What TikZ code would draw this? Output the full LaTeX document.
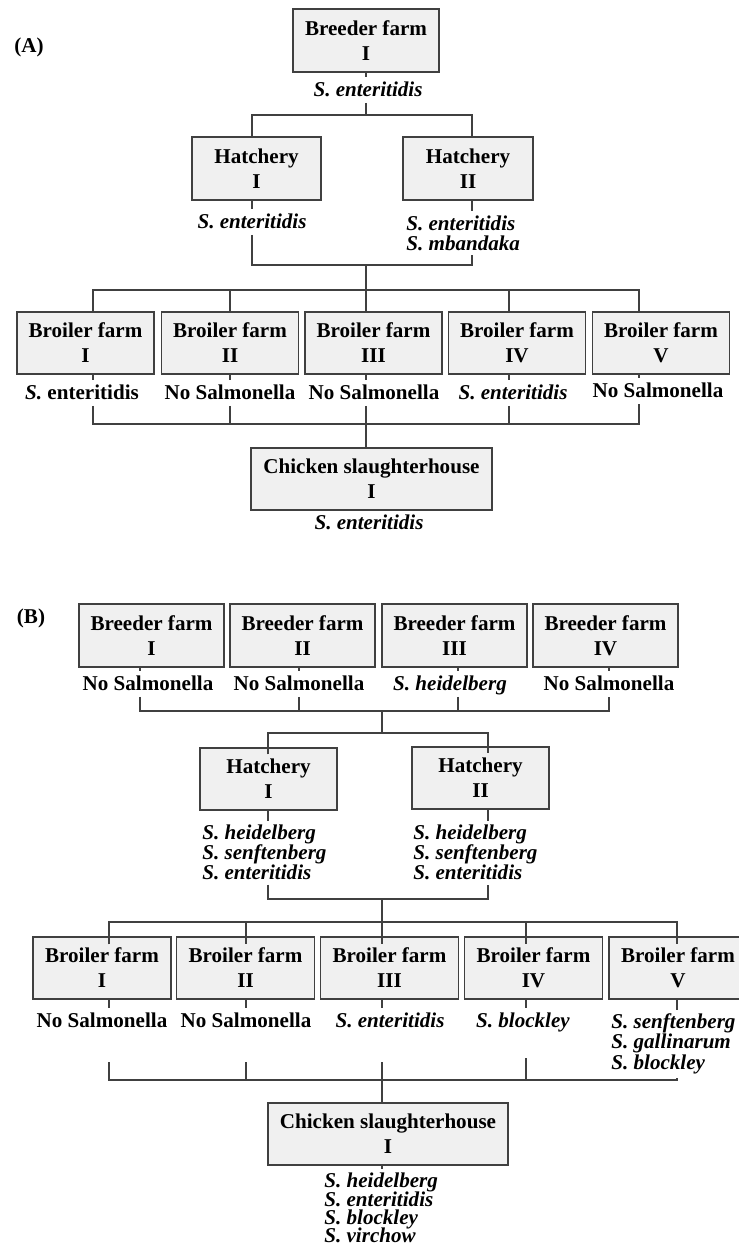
\documentclass[tikz,border=0pt]{standalone}
\usepackage{fontspec}
\setmainfont{Liberation Serif}
\usetikzlibrary{calc}
\newcommand\tightlines{\lineskiplimit=-20pt\relax}

\begin{document}
\begin{tikzpicture}[x=0.02cm,y=-0.02cm]

\tikzset{
    box/.style={draw=black!75, line width=0.7pt, fill=black!6, align=center,
        font=\fontsize{12}{14.2}\selectfont\bfseries, inner sep=0pt,
        minimum width=2.74cm, minimum height=1.24cm},
    lbl/.style={font=\fontsize{12}{11.5}\selectfont\bfseries, inner sep=0.08cm,
        text height=8.4pt, text depth=1.2pt},
    lbls/.style={font=\fontsize{12}{11.5}\selectfont\bfseries\itshape\tightlines,
        inner sep=0.08cm, align=left, anchor=north west},
    tag/.style={font=\fontsize{12}{14}\selectfont\bfseries},
    conn/.style={draw=black!75, line width=0.7pt}}

\useasboundingbox (0,0) rectangle (739,1246);
\clip (0,0) rectangle (739,1246);

% (A)
\node[tag] (tagA) at (29,47) {(A)};

\node[box, minimum width=2.92cm, minimum height=1.26cm] (abr) at (366,40.5) {Breeder farm\\I};
\node[lbl] (abrl) at (368,90) {\textit{S. enteritidis}};
\coordinate (ja0) at (366,115);
\coordinate (ja1) at (252,115);
\coordinate (ja2) at (472,115);

\node[box, minimum width=2.58cm, minimum height=1.26cm] (ah1) at (256.5,168.5) {Hatchery\\I};
\node[box, minimum width=2.6cm, minimum height=1.26cm] (ah2) at (468,168.5) {Hatchery\\II};
\node[lbl] (ah1l) at (252,222) {\textit{S. enteritidis}};
\node[lbls] (ah2l) at (402,211.5) {S. enteritidis\\S. mbandaka};
\coordinate (jb0) at (366,265);
\coordinate (jb1) at (252,265);
\coordinate (jb2) at (472,265);

\coordinate (jc0) at (366,290);
\coordinate (jc1) at (93,290);
\coordinate (jc2) at (230,290);
\coordinate (jc4) at (509,290);
\coordinate (jc5) at (639,290);

\node[box] (ab1) at (85.5,343) {Broiler farm\\I};
\node[box] (ab2) at (230,343) {Broiler farm\\II};
\node[box] (ab3) at (373.5,343) {Broiler farm\\III};
\node[box] (ab4) at (517,343) {Broiler farm\\IV};
\node[box] (ab5) at (661,343) {Broiler farm\\V};
\node[lbl] (ab1l) at (82,393) {\textit{S.} enteritidis};
\node[lbl] (ab2l) at (230,393) {No Salmonella};
\node[lbl] (ab3l) at (374,393) {No Salmonella};
\node[lbl] (ab4l) at (513,393) {\textit{S. enteritidis}};
\node[lbl] (ab5l) at (658,391) {No Salmonella};

\coordinate (jd0) at (366,424);
\coordinate (jd1) at (93,424);
\coordinate (jd2) at (230,424);
\coordinate (jd4) at (509,424);
\coordinate (jd5) at (639,424);

\node[box, minimum width=4.82cm] (asl) at (371.5,479) {Chicken slaughterhouse\\I};
\node[lbl] (asll) at (369,523) {\textit{S. enteritidis}};

\draw[conn] (abr.south -| ja0) -- (abrl.north -| ja0);
\draw[conn] (abrl.south -| ja0) -- (ja0);
\draw[conn] (ah1.north -| ja1) -- (ja1) -- (ja2) -- (ah2.north -| ja2);
\draw[conn] (ah1.south -| jb1) -- (ah1l.north -| jb1);
\draw[conn] (ah2.south -| jb2) -- (ah2l.north -| jb2);
\draw[conn] (ah1l.south -| jb1) -- (jb1) -- (jb2) -- (ah2l.south -| jb2);
\draw[conn] (jb0) -- (jc0);
\draw[conn] (ab1.north -| jc1) -- (jc1) -- (jc5) -- (ab5.north -| jc5);
\draw[conn] (jc2) -- (ab2.north -| jc2);
\draw[conn] (jc0) -- (ab3.north -| jc0);
\draw[conn] (jc4) -- (ab4.north -| jc4);
\draw[conn] (ab1.south -| jc1) -- (ab1l.north -| jc1);
\draw[conn] (ab2.south -| jc2) -- (ab2l.north -| jc2);
\draw[conn] (ab3.south -| jc0) -- (ab3l.north -| jc0);
\draw[conn] (ab4.south -| jc4) -- (ab4l.north -| jc4);
\draw[conn] (ab5.south -| jc5) -- (ab5l.north -| jc5);
\draw[conn] (ab1l.south -| jd1) -- (jd1) -- (jd5) -- (ab5l.south -| jd5);
\draw[conn] (ab2l.south -| jd2) -- (jd2);
\draw[conn] (ab3l.south -| jd0) -- (jd0);
\draw[conn] (ab4l.south -| jd4) -- (jd4);
\draw[conn] (jd0) -- (asl.north -| jd0);
\draw[conn] (asl.south -| jd0) -- (asll.north -| jd0);

% (B)
\node[tag] (tagB) at (31,618) {(B)};

\node[box, minimum width=2.9cm, minimum height=1.26cm] (bbr1) at (151.5,635.5) {Breeder farm\\I};
\node[box, minimum width=2.9cm, minimum height=1.26cm] (bbr2) at (302.5,635.5) {Breeder farm\\II};
\node[box, minimum width=2.9cm, minimum height=1.26cm] (bbr3) at (454.5,635.5) {Breeder farm\\III};
\node[box, minimum width=2.9cm, minimum height=1.26cm] (bbr4) at (605.5,635.5) {Breeder farm\\IV};
\node[lbl] (bbr1l) at (148,684) {No Salmonella};
\node[lbl] (bbr2l) at (299,684) {No Salmonella};
\node[lbl] (bbr3l) at (450,684) {\textit{S. heidelberg}};
\node[lbl] (bbr4l) at (609,684) {No Salmonella};

\coordinate (ka0) at (382,711);
\coordinate (ka1) at (140,711);
\coordinate (ka2) at (299,711);
\coordinate (ka3) at (458,711);
\coordinate (ka4) at (609,711);

\coordinate (kb0) at (382,733);
\coordinate (kb1) at (268,733);
\coordinate (kb2) at (488,733);

\node[box] (bh1) at (268.5,779) {Hatchery\\I};
\node[box] (bh2) at (480.5,778) {Hatchery\\II};
\node[lbls] (bh1l) at (198,820.5) {S. heidelberg\\S. senftenberg\\S. enteritidis};
\node[lbls] (bh2l) at (409,820.5) {S. heidelberg\\S. senftenberg\\S. enteritidis};

\coordinate (kc0) at (382,899);
\coordinate (kc1) at (268,899);
\coordinate (kc2) at (488,899);

\coordinate (kd0) at (382,922);
\coordinate (kd1) at (109,922);
\coordinate (kd2) at (246,922);
\coordinate (kd4) at (526,922);
\coordinate (kd5) at (677,922);

\node[box, minimum width=2.76cm] (bb1) at (102,968) {Broiler farm\\I};
\node[box, minimum width=2.76cm] (bb2) at (245.5,968) {Broiler farm\\II};
\node[box, minimum width=2.76cm] (bb3) at (389.5,968) {Broiler farm\\III};
\node[box, minimum width=2.76cm] (bb4) at (533.5,968) {Broiler farm\\IV};
\node[box, minimum width=2.76cm] (bb5) at (678,968) {Broiler farm\\V};
\node[lbl] (bb1l) at (102,1021) {No Salmonella};
\node[lbl] (bb2l) at (246,1021) {No Salmonella};
\node[lbl] (bb3l) at (390,1021) {\textit{S. enteritidis}};
\node[lbl] (bb4l) at (523,1021) {\textit{S. blockley}};
\node[lbls] (bb5l) at (607,1009.5) {S. senftenberg\\S. gallinarum\\S. blockley};

\coordinate (ke1) at (109,1062);
\coordinate (ke2) at (246,1062);
\coordinate (ke3) at (382,1062);
\coordinate (ke4) at (526,1058);

\coordinate (kf0) at (382,1080);
\coordinate (kf1) at (109,1080);
\coordinate (kf2) at (246,1080);
\coordinate (kf4) at (526,1080);
\coordinate (kf5) at (677,1080);

\node[box, minimum width=4.8cm] (bsl) at (388,1134) {Chicken slaughterhouse\\I};
\node[lbls, font=\fontsize{12}{10.3}\selectfont\bfseries\itshape\tightlines] (bsll) at (320,1169)
    {S. heidelberg\\S. enteritidis\\S. blockley\\S. virchow};

\draw[conn] (bbr1.south -| ka1) -- (bbr1l.north -| ka1);
\draw[conn] (bbr2.south -| ka2) -- (bbr2l.north -| ka2);
\draw[conn] (bbr3.south -| ka3) -- (bbr3l.north -| ka3);
\draw[conn] (bbr4.south -| ka4) -- (bbr4l.north -| ka4);
\draw[conn] (bbr1l.south -| ka1) -- (ka1) -- (ka4) -- (bbr4l.south -| ka4);
\draw[conn] (bbr2l.south -| ka2) -- (ka2);
\draw[conn] (bbr3l.south -| ka3) -- (ka3);
\draw[conn] (ka0) -- (kb0);
\draw[conn] ($(bh1.north -| kb1)+(0,7)$) -- (kb1) -- (kb2) -- ($(bh2.north -| kb2)+(0,7)$);
\draw[conn] (bh1.south -| kb1) -- (bh1l.north -| kb1);
\draw[conn] (bh2.south -| kb2) -- (bh2l.north -| kb2);
\draw[conn] (bh1l.south -| kc1) -- (kc1) -- (kc2) -- (bh2l.south -| kc2);
\draw[conn] (kc0) -- (kd0);
\draw[conn] ($(bb1.north -| kd1)+(0,8)$) -- (kd1) -- (kd5) -- ($(bb5.north -| kd5)+(0,8)$);
\draw[conn] (kd2) -- ($(bb2.north -| kd2)+(0,8)$);
\draw[conn] (kd0) -- ($(bb3.north -| kd0)+(0,8)$);
\draw[conn] (kd4) -- ($(bb4.north -| kd4)+(0,8)$);
\draw[conn] (bb1.south -| kd1) -- (bb1l.north -| kd1);
\draw[conn] (bb2.south -| kd2) -- (bb2l.north -| kd2);
\draw[conn] (bb3.south -| kd0) -- (bb3l.north -| kd0);
\draw[conn] (bb4.south -| kd4) -- (bb4l.north -| kd4);
\draw[conn] (bb5.south -| kd5) -- (bb5l.north -| kd5);
\draw[conn] (ke1) -- (kf1) -- (kf5) -- (bb5l.south -| kf5);
\draw[conn] (ke2) -- (kf2);
\draw[conn] (ke3) -- (kf0);
\draw[conn] (ke4) -- (kf4);
\draw[conn] (kf0) -- (bsl.north -| kf0);
\draw[conn] (bsl.south -| kf0) -- (bsll.north -| kf0);

\end{tikzpicture}
\end{document}
